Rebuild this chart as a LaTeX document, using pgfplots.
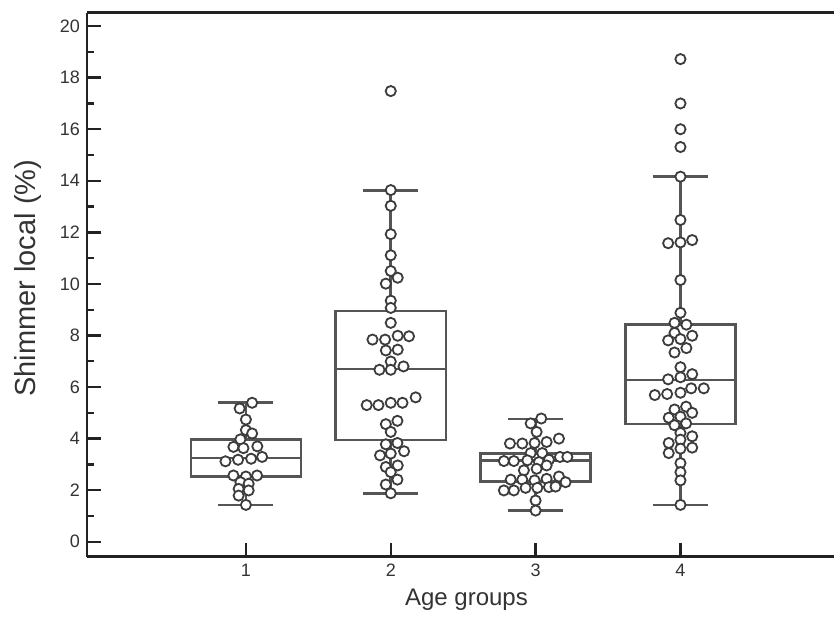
\documentclass[border=0pt]{standalone}
\usepackage{fontspec}
\setmainfont{Liberation Sans}
\usepackage{pgfplots}
\pgfplotsset{compat=1.18}
\usepgfplotslibrary{statistics}
\definecolor{boxc}{HTML}{555555}
\definecolor{dotc}{HTML}{3C3C3C}
\definecolor{axc}{HTML}{222222}
\definecolor{txt}{HTML}{333333}
\pgfplotsset{
  boxplot/every median/.style={line width=1.3pt, draw=boxc},
  boxplot/every box/.style={line width=1.3pt, draw=boxc},
  boxplot/every whisker/.style={line width=1.3pt, draw=boxc},
}
\begin{document}
\begin{tikzpicture}
\begin{axis}[
  at={(0,0)}, anchor=south west,
  scale only axis, width=373.5pt, height=272pt,
  xmin=-0.097, xmax=5.06, ymin=-0.58, ymax=20.52,
  axis x line=box, axis y line=left,
  axis line style={-, line width=1.4pt, color=axc},
  y axis line style={-}, x axis line style={-},
  xtick={1,2,3,4}, xtick pos=bottom,
  ytick={0,2,...,20}, minor y tick num=1,
  tick align=inside,
  major tick length=7pt, minor tick length=3.5pt,
  tick style={line width=1.2pt, color=axc},
  /pgf/number format/assume math mode=true,
  ticklabel style={font=\fontsize{9}{10}\selectfont, color=txt},
  xlabel={Age groups}, ylabel={Shimmer local (\%)},
  xlabel style={at={(axis description cs:0.508,-0.079)}, anchor=center, font=\fontsize{12}{14}\selectfont, color=txt},
  ylabel style={at={(axis description cs:-0.079,0.512)}, anchor=center, font=\fontsize{14.5}{16}\selectfont, color=txt},
  boxplot/draw direction=y,
  clip=false,
]
\addplot[boxc, line width=1.3pt, boxplot prepared={draw direction=y, draw position=1, lower whisker=1.43, lower quartile=2.53, median=3.25, upper quartile=3.97, upper whisker=5.40, box extend=0.76, whisker extend=0.38}] coordinates {};
\addplot[boxc, line width=1.3pt, boxplot prepared={draw direction=y, draw position=2, lower whisker=1.88, lower quartile=3.95, median=6.70, upper quartile=8.95, upper whisker=13.62, box extend=0.76, whisker extend=0.38}] coordinates {};
\addplot[boxc, line width=1.3pt, boxplot prepared={draw direction=y, draw position=3, lower whisker=1.21, lower quartile=2.33, median=3.15, upper quartile=3.43, upper whisker=4.76, box extend=0.76, whisker extend=0.38}] coordinates {};
\addplot[boxc, line width=1.3pt, boxplot prepared={draw direction=y, draw position=4, lower whisker=1.43, lower quartile=4.56, median=6.28, upper quartile=8.42, upper whisker=14.16, box extend=0.76, whisker extend=0.38}] coordinates {};

% group 1
\addplot[only marks, mark=*, mark size=2.55pt, mark options={fill=white, draw=dotc, line width=0.9pt}] table {
x y
1.043 5.39
0.957 5.17
1.000 4.74
1.000 4.33
1.043 4.20
0.962 3.97
0.914 3.68
0.983 3.63
1.079 3.70
0.859 3.12
0.946 3.18
1.036 3.22
1.112 3.29
0.914 2.57
1.000 2.53
1.077 2.57
0.962 2.31
1.019 2.25
0.950 2.05
1.019 1.99
0.950 1.79
1.000 1.43
};
% group 2
\addplot[only marks, mark=*, mark size=2.55pt, mark options={fill=white, draw=dotc, line width=0.9pt}] table {
x y
2.000 17.48
2.000 13.64
2.000 13.03
2.000 11.93
2.000 11.11
2.000 10.50
2.048 10.24
1.966 10.01
2.000 9.35
2.000 9.07
2.000 8.49
1.874 7.84
1.961 7.84
2.048 7.99
2.126 7.97
1.966 7.42
2.048 7.45
2.000 6.99
1.922 6.67
2.000 6.67
2.088 6.80
1.834 5.30
1.915 5.30
2.000 5.39
2.081 5.39
2.172 5.60
1.966 4.56
2.046 4.69
2.000 4.26
1.966 3.78
2.046 3.83
1.926 3.35
2.000 3.42
2.092 3.51
1.966 2.90
2.048 2.96
2.000 2.70
1.966 2.22
2.046 2.41
2.000 1.88
};
% group 3
\addplot[only marks, mark=*, mark size=2.55pt, mark options={fill=white, draw=dotc, line width=0.9pt}] table {
x y
3.039 4.78
2.966 4.59
3.007 4.26
2.823 3.81
2.908 3.81
2.993 3.83
3.076 3.87
3.161 4.00
2.966 3.44
3.046 3.44
2.781 3.13
2.850 3.13
2.943 3.16
3.023 3.09
3.092 3.18
3.168 3.29
3.219 3.29
2.919 2.77
3.007 2.83
3.076 2.96
2.828 2.41
2.908 2.41
2.993 2.38
3.076 2.44
3.161 2.53
3.207 2.31
2.781 1.99
2.850 1.99
2.931 2.09
3.012 2.09
3.092 2.12
3.138 2.14
3.000 1.60
3.000 1.21
};
% group 4
\addplot[only marks, mark=*, mark size=2.55pt, mark options={fill=white, draw=dotc, line width=0.9pt}] table {
x y
4.000 18.72
4.000 17.00
4.000 16.00
4.000 15.31
4.000 14.16
4.000 12.48
3.915 11.58
4.000 11.61
4.081 11.70
4.000 10.15
4.000 8.88
3.959 8.49
4.041 8.42
3.959 8.10
4.081 7.99
3.915 7.81
4.000 7.86
3.959 7.34
4.041 7.51
4.000 6.77
3.915 6.30
4.000 6.38
4.081 6.50
3.823 5.69
3.908 5.73
4.000 5.78
4.074 5.95
4.161 5.95
3.959 5.13
4.039 5.24
3.919 4.81
4.000 4.85
4.081 5.00
3.959 4.52
4.039 4.59
4.000 4.22
3.919 3.83
4.081 4.09
4.000 3.96
3.919 3.44
4.000 3.61
4.081 3.65
4.000 3.05
4.000 2.70
4.000 2.38
4.000 1.43
};
\end{axis}
\pgfresetboundingbox
\path[use as bounding box] (-43.5pt,-32.5pt) rectangle (373.5pt,278.35pt);
\end{tikzpicture}
\end{document}
